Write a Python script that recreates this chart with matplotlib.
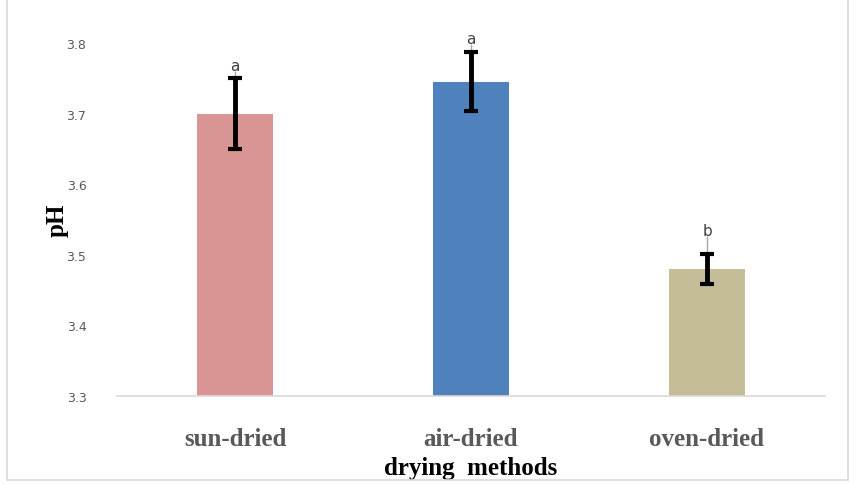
## pH of the fruit samples per drying method
import numpy as np
import matplotlib.pyplot as plt
from matplotlib.patches import Rectangle

# data
methods = ["sun-dried", "air-dried", "oven-dried"]
ph_mean = [3.70, 3.745, 3.48]
ph_err = [0.05, 0.042, 0.021]
letters = ["a", "a", "b"]
lead_len = [0.061, 0.054, 0.047]   # grey leader line from bar top to the letter
bar_colors = ["#D99594", "#4F81BD", "#C4BD97"]
yticks = [3.3, 3.4, 3.5, 3.6, 3.7, 3.8]

fig = plt.figure(figsize=(8.57, 4.85), dpi=100)
ax = fig.add_axes([117/857, 1 - 397/485, (825-117)/857, (397-8.7)/485])

x = np.arange(len(methods))
ax.bar(x, np.array(ph_mean) - 3.3, bottom=3.3, width=0.32, color=bar_colors, zorder=2)

# grey leader lines up to the letters
ax.errorbar(x, ph_mean, yerr=[np.zeros(3), lead_len], fmt="none",
            ecolor="#A6A6A6", elinewidth=1, capsize=0, zorder=3)
# black error bars
ax.errorbar(x, ph_mean, yerr=ph_err, fmt="none", ecolor="black",
            elinewidth=3.5, capsize=5, capthick=3, zorder=4)

for xi, m, l, t in zip(x, ph_mean, lead_len, letters):
    ax.text(xi, m + l - 0.003, t, ha="center", va="bottom", fontsize=11,
            color="#404040", family="DejaVu Sans")

ax.set_xlim(-0.5, 2.5)
ax.set_ylim(3.3, 3.85)
ax.set_yticks(yticks)
ax.set_yticklabels([f"{v:.1f}" for v in yticks], color="#595959",
                   fontsize=9, family="DejaVu Sans")
ax.set_xticks(x)
ax.set_xticklabels(methods, fontsize=18, fontweight="bold",
                   color="#595959", family="Liberation Serif")
ax.tick_params(axis="both", length=0)
ax.tick_params(axis="x", pad=22)
ax.tick_params(axis="y", pad=22)

for s in ["top", "right", "left"]:
    ax.spines[s].set_visible(False)
ax.spines["bottom"].set_color("#D9D9D9")
ax.spines["bottom"].set_linewidth(1.2)

ax.set_xlabel("drying  methods", fontsize=18, fontweight="bold",
              family="Liberation Serif", va="center")
ax.xaxis.set_label_coords(0.5, (397 - 469) / 388.3)
ax.set_ylabel("pH", fontsize=18, fontweight="bold",
              family="Liberation Serif", va="center")
ax.yaxis.set_label_coords((57 - 117) / 708, (397 - 220) / 388.3)

# light grey chart border
fig.patches.append(Rectangle((7/857, 4/485), (848-7)/857, (485-4)/485,
                             transform=fig.transFigure, fill=False,
                             edgecolor="#D9D9D9", linewidth=1.2))

plt.savefig("out.png", dpi=100)
